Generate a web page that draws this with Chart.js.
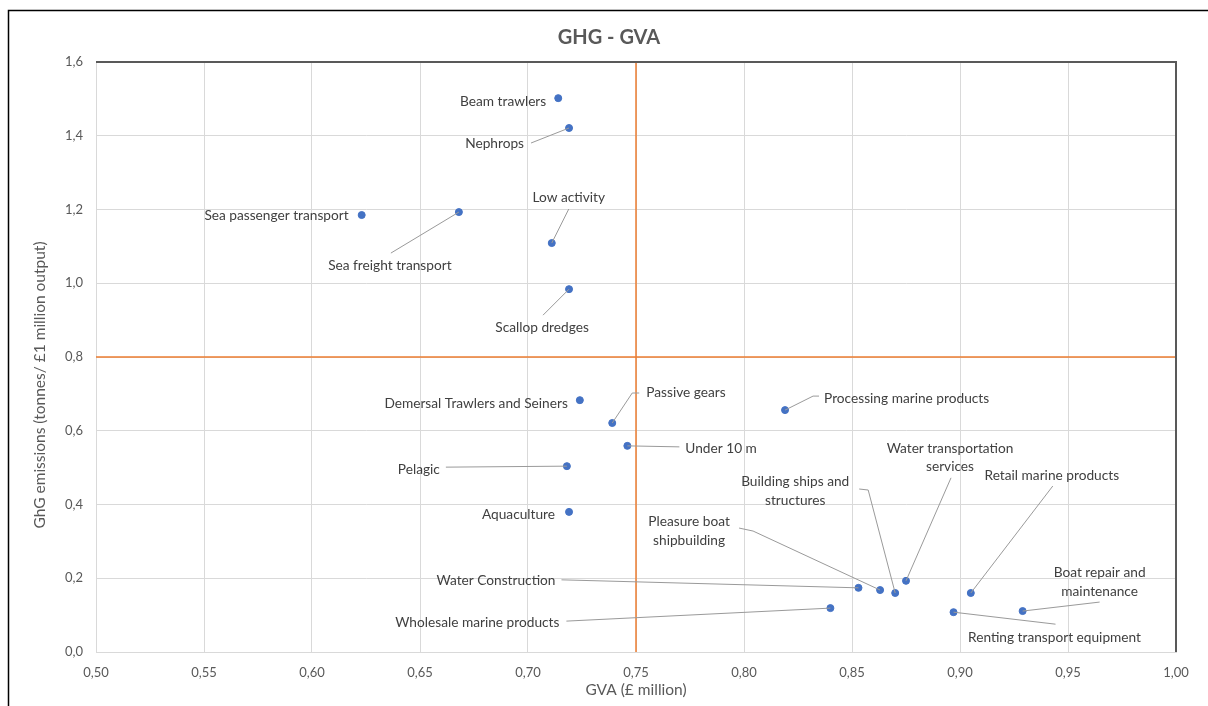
<!DOCTYPE html>
<html>
<head>
<meta charset="utf-8">
<script src="https://cdn.jsdelivr.net/npm/chart.js@4.4.1/dist/chart.umd.min.js"></script>
<style>
  html, body { margin: 0; padding: 0; background: #ffffff; }
  #wrap { width: 1208px; height: 706px; position: relative; }
</style>
</head>
<body>
<div id="wrap"><canvas id="chart" width="1208" height="706"></canvas></div>
<script>
// Marine sectors: gross value added against greenhouse gas intensity
const categories = [
  'Beam trawlers', 'Nephrops', 'Sea passenger transport', 'Sea freight transport',
  'Low activity', 'Scallop dredges', 'Demersal Trawlers and Seiners', 'Passive gears',
  'Under 10 m', 'Pelagic', 'Aquaculture', 'Processing marine products',
  'Water Construction', 'Pleasure boat shipbuilding', 'Building ships and structures',
  'Water transportation services', 'Retail marine products', 'Wholesale marine products',
  'Renting transport equipment', 'Boat repair and maintenance'
];
const gvaValues = [
  0.714, 0.719, 0.623, 0.668,
  0.711, 0.719, 0.724, 0.739,
  0.746, 0.718, 0.719, 0.819,
  0.853, 0.863, 0.870,
  0.875, 0.905, 0.840,
  0.897, 0.929
];
const ghgValues = [
  1.502, 1.421, 1.185, 1.193,
  1.109, 0.984, 0.683, 0.621,
  0.559, 0.504, 0.380, 0.656,
  0.174, 0.168, 0.160,
  0.193, 0.160, 0.119,
  0.108, 0.111
];
const xTickLabels = ['0,50', '0,55', '0,60', '0,65', '0,70', '0,75', '0,80', '0,85', '0,90', '0,95', '1,00'];
const yTickLabels = ['0,0', '0,2', '0,4', '0,6', '0,8', '1,0', '1,2', '1,4', '1,6'];
const gvaThreshold = 0.75;
const ghgThreshold = 0.8;

// Where each data label sits relative to its marker (pixels), with optional leader path
const labelLayout = [
  { lines: ['Beam trawlers'], align: 'right', dx: -12, dy: 3 },
  { lines: ['Nephrops'], align: 'right', dx: -45, dy: 16, leader: [[-38, 15]] },
  { lines: ['Sea passenger transport'], align: 'right', dx: -13, dy: 1 },
  { lines: ['Sea freight transport'], align: 'center', dx: -69, dy: 54, leader: [[-68, 41]] },
  { lines: ['Low activity'], align: 'center', dx: 17, dy: -45, leader: [[17, -34]] },
  { lines: ['Scallop dredges'], align: 'center', dx: -27, dy: 38, leader: [[-26, 26]] },
  { lines: ['Demersal Trawlers and Seiners'], align: 'right', dx: -12, dy: 3 },
  { lines: ['Passive gears'], align: 'left', dx: 34, dy: -30, leader: [[20, -30], [27, -30]] },
  { lines: ['Under 10 m'], align: 'left', dx: 58, dy: 3, leader: [[52, 1]] },
  { lines: ['Pelagic'], align: 'right', dx: -127, dy: 3, leader: [[-121, 1]] },
  { lines: ['Aquaculture'], align: 'right', dx: -14, dy: 3 },
  { lines: ['Processing marine products'], align: 'left', dx: 39, dy: -12, leader: [[28, -14], [34, -14]] },
  { lines: ['Water Construction'], align: 'right', dx: -303, dy: -7, leader: [[-297, -8]] },
  { lines: ['Pleasure boat', 'shipbuilding'], align: 'center', dx: -191, dy: -59, leader: [[-127, -59], [-141, -62]] },
  { lines: ['Building ships and', 'structures'], align: 'center', dx: -100, dy: -102, leader: [[-27, -103], [-36, -104]] },
  { lines: ['Water transportation', 'services'], align: 'center', dx: 44, dy: -123, leader: [[45, -103]] },
  { lines: ['Retail marine products'], align: 'center', dx: 81, dy: -117, leader: [[82, -107]] },
  { lines: ['Wholesale marine products'], align: 'right', dx: -271, dy: 14, leader: [[-264, 13]] },
  { lines: ['Renting transport equipment'], align: 'center', dx: 101, dy: 25, leader: [[102, 12]] },
  { lines: ['Boat repair and', 'maintenance'], align: 'center', dx: 77, dy: -29, leader: [[77, -9]] }
];

const FONT = 'Lato, "Open Sans", sans-serif';
const LABEL_SIZE = 13.7;
const LINE_GAP = 18.5;

const points = categories.map((c, i) => ({ x: gvaValues[i], y: ghgValues[i] }));

// Chart furniture: outer frame, heading, y-axis caption, dark top/right plot edge
const framePlugin = {
  id: 'frame',
  beforeDraw(chart) {
    const { ctx } = chart;
    ctx.save();
    ctx.fillStyle = '#ffffff';
    ctx.fillRect(0, 0, chart.width, chart.height);
    ctx.strokeStyle = '#000000';
    ctx.lineWidth = 1.5;
    ctx.beginPath();
    ctx.moveTo(8.5, chart.height);
    ctx.lineTo(8.5, 10.5);
    ctx.lineTo(chart.width, 10.5);
    ctx.stroke();

    ctx.fillStyle = '#595959';
    ctx.font = 'bold 20px ' + FONT;
    ctx.textAlign = 'center';
    ctx.textBaseline = 'middle';
    ctx.fillText('GHG - GVA', 609, 38);

    ctx.font = '15.5px ' + FONT;
    ctx.translate(40, 385);
    ctx.rotate(-Math.PI / 2);
    ctx.fillText('GhG emissions (tonnes/ £1 million output)', 0, 0);
    ctx.restore();
  },
  afterDraw(chart) {
    const { ctx, chartArea: a } = chart;
    ctx.save();
    ctx.strokeStyle = '#595959';
    ctx.lineWidth = 2;
    ctx.beginPath();
    ctx.moveTo(a.left, a.top);
    ctx.lineTo(a.right, a.top);
    ctx.lineTo(a.right, a.bottom);
    ctx.stroke();
    ctx.restore();
  }
};

// Sector names beside each marker, joined by thin grey leader lines where offset
const labelPlugin = {
  id: 'pointLabels',
  afterDatasetsDraw(chart) {
    const { ctx } = chart;
    const xs = chart.scales.x, ys = chart.scales.y;
    ctx.save();
    labelLayout.forEach((lab, i) => {
      const px = xs.getPixelForValue(gvaValues[i]);
      const py = ys.getPixelForValue(ghgValues[i]);
      if (lab.leader) {
        ctx.strokeStyle = '#9a9a9a';
        ctx.lineWidth = 1;
        ctx.beginPath();
        ctx.moveTo(px, py);
        lab.leader.forEach(([lx, ly]) => ctx.lineTo(px + lx, py + ly));
        ctx.stroke();
      }
      ctx.fillStyle = '#404040';
      ctx.font = LABEL_SIZE + 'px ' + FONT;
      ctx.textAlign = lab.align;
      ctx.textBaseline = 'middle';
      const n = lab.lines.length;
      lab.lines.forEach((t, k) => {
        const off = (k - (n - 1) / 2) * LINE_GAP;
        ctx.fillText(t, px + lab.dx, py + lab.dy + off);
      });
    });
    ctx.restore();
  }
};

new Chart(document.getElementById('chart'), {
  type: 'scatter',
  data: {
    datasets: [
      {
        label: 'Sectors',
        data: points,
        backgroundColor: '#4472C4',
        borderColor: '#4472C4',
        pointRadius: 3.5,
        pointHoverRadius: 3.5
      },
      {
        label: 'GVA threshold',
        data: [{ x: gvaThreshold, y: 0 }, { x: gvaThreshold, y: 1.6 }],
        showLine: true,
        borderColor: '#ED7D31',
        borderWidth: 1.5,
        pointRadius: 0
      },
      {
        label: 'GHG threshold',
        data: [{ x: 0.5, y: ghgThreshold }, { x: 1.0, y: ghgThreshold }],
        showLine: true,
        borderColor: '#ED7D31',
        borderWidth: 1.5,
        pointRadius: 0
      }
    ]
  },
  options: {
    responsive: false,
    animation: false,
    events: [],
    layout: { padding: { left: 20, top: 62, right: 32, bottom: 3 } },
    plugins: {
      legend: { display: false },
      tooltip: { enabled: false },
      title: { display: false }
    },
    scales: {
      x: {
        type: 'linear',
        min: 0.5,
        max: 1.0,
        afterFit(scale) { scale.height = 51; },
        afterBuildTicks(scale) {
          scale.ticks = xTickLabels.map((t, i) => ({ value: 0.5 + i * 0.05 }));
        },
        ticks: {
          callback: (v, i) => xTickLabels[i],
          color: '#595959',
          font: { family: FONT, size: 13 },
          padding: 13,
          maxRotation: 0,
          autoSkip: false
        },
        grid: { color: '#d9d9d9', lineWidth: 1, drawTicks: false },
        border: { color: '#d9d9d9', width: 1 },
        title: {
          display: true,
          text: 'GVA (£ million)',
          color: '#595959',
          font: { family: FONT, size: 15.5 },
          padding: { top: 0, bottom: 4 }
        }
      },
      y: {
        type: 'linear',
        min: 0,
        max: 1.6,
        afterFit(scale) { scale.width = 76; },
        afterBuildTicks(scale) {
          scale.ticks = yTickLabels.map((t, i) => ({ value: i * 0.2 }));
        },
        ticks: {
          callback: (v, i) => yTickLabels[i],
          color: '#595959',
          font: { family: FONT, size: 13 },
          padding: 13,
          autoSkip: false
        },
        grid: { color: '#d9d9d9', lineWidth: 1, drawTicks: false },
        border: { color: '#d9d9d9', width: 1 }
      }
    }
  },
  plugins: [framePlugin, labelPlugin]
});
</script>
</body>
</html>
